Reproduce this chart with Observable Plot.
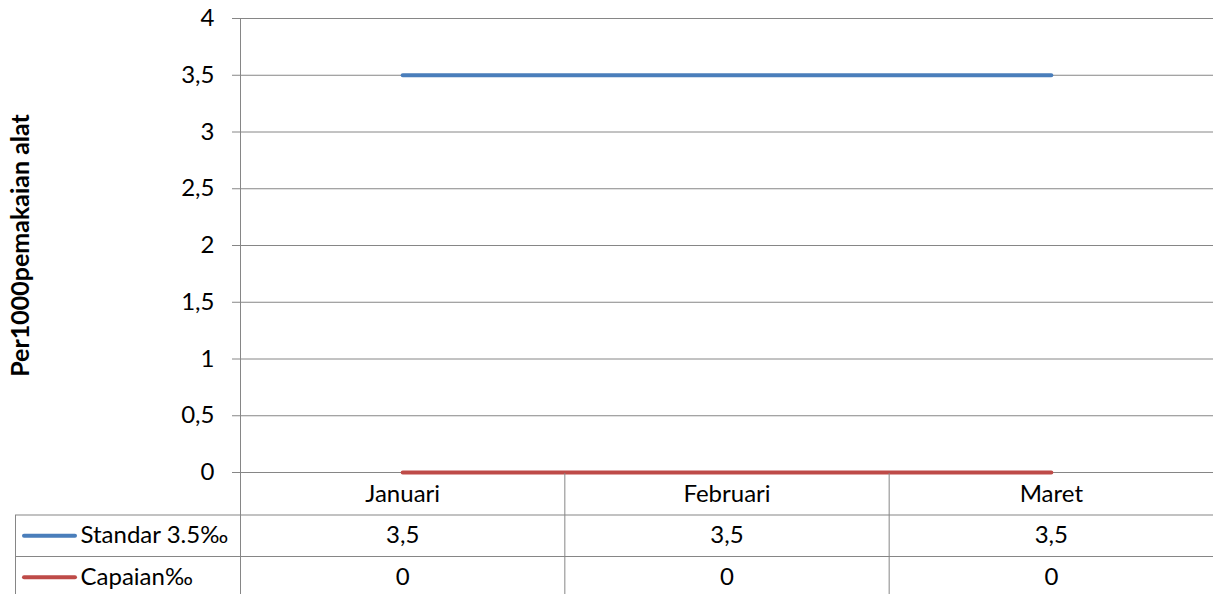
<!DOCTYPE html>
<html>
<head>
<meta charset="utf-8">
<script src="https://cdn.jsdelivr.net/npm/d3@7"></script>
<script src="https://cdn.jsdelivr.net/npm/@observablehq/plot@0.6"></script>
<style>
  html, body { margin: 0; padding: 0; background: #fff; }
  #chart svg { display: block; overflow: visible; }
</style>
</head>
<body>
<div id="chart"></div>
<script>
const months = ["Januari", "Februari", "Maret"];
const standar = [3.5, 3.5, 3.5];
const capaian = [0, 0, 0];
const seriesNames = ["Standar 3.5‰", "Capaian‰"];
const seriesColors = ["#4A7EBB", "#BE4B48"];
const yTicks = [0, 0.5, 1, 1.5, 2, 2.5, 3, 3.5, 4];
const yLabel = "Per1000pemakaian alat";

const grid = "#868686";
const fmt = d => String(d).replace(".", ",");
const FS = 24;
const font = {fontFamily: "Lato, 'Open Sans', sans-serif", fontSize: FS + "px", color: "#000", background: "transparent"};

const seriesValues = [standar, capaian];
const lineData = seriesValues.flatMap((vals, s) =>
  vals.map((v, i) => ({series: seriesNames[s], x: i + 0.5, y: v})));

const chart = Plot.plot({
  width: 1213,
  height: 473,
  marginLeft: 240,
  marginRight: 0,
  marginTop: 18,
  marginBottom: 1,
  style: font,
  x: {domain: [0, months.length], axis: null},
  y: {domain: [0, 4], axis: null},
  color: {domain: seriesNames, range: seriesColors},
  marks: [
    Plot.ruleY(yTicks, {stroke: grid, strokeWidth: 1, strokeOpacity: 1}),
    Plot.axisY({ticks: yTicks, tickFormat: fmt, tickSize: 8, tickPadding: 18, stroke: grid, strokeOpacity: 1,
      label: null, fontSize: FS}),
    Plot.ruleX([0], {stroke: grid}),
    Plot.line(lineData, {x: "x", y: "y", z: "series", stroke: "series", strokeWidth: 4}),
    Plot.text([yLabel], {text: d => d, frameAnchor: "left", rotate: -90, dx: -220, fontWeight: "bold",
      fontSize: 25, fill: "#000", textAnchor: "middle"})
  ]
});

// Data table below
const rowH = 41.5;
const tableRows = [
  ...months.map((m, i) => ({x: i + 0.5, y: 0.5, text: m})),
  ...seriesValues.flatMap((vals, s) => vals.map((v, i) => ({x: i + 0.5, y: s + 1.5, text: fmt(v)})))
];
const legendRows = seriesNames.map((n, s) => ({y: s + 1.5, name: n, color: seriesColors[s]}));

const table = Plot.plot({
  width: 1213,
  height: 122,
  marginLeft: 0,
  marginRight: 0,
  marginTop: 0,
  marginBottom: 0,
  style: font,
  x: {domain: [0, months.length], range: [240, 1213], axis: null},
  y: {domain: [0, 3], range: [0, rowH * 3], axis: null},
  marks: [
    Plot.frame({stroke: grid, insetLeft: 15, insetTop: rowH, insetRight: -2, insetBottom: -4}),
    Plot.ruleY([2], {stroke: grid, insetLeft: 15}),
    Plot.ruleX(d3.range(months.length), {stroke: grid}),
    Plot.text(tableRows, {x: "x", y: "y", text: "text", fill: "#000", fontSize: FS}),
    Plot.ruleY(legendRows, {y: "y", stroke: "color", strokeWidth: 4, strokeLinecap: "round", insetLeft: 24, insetRight: 1213 - 75}),
    Plot.text(legendRows, {y: "y", text: "name", frameAnchor: "left", dx: 80, textAnchor: "start", fill: "#000", fontSize: FS})
  ]
});

const root = document.getElementById("chart");
root.appendChild(chart);
root.appendChild(table);
</script>
</body>
</html>
